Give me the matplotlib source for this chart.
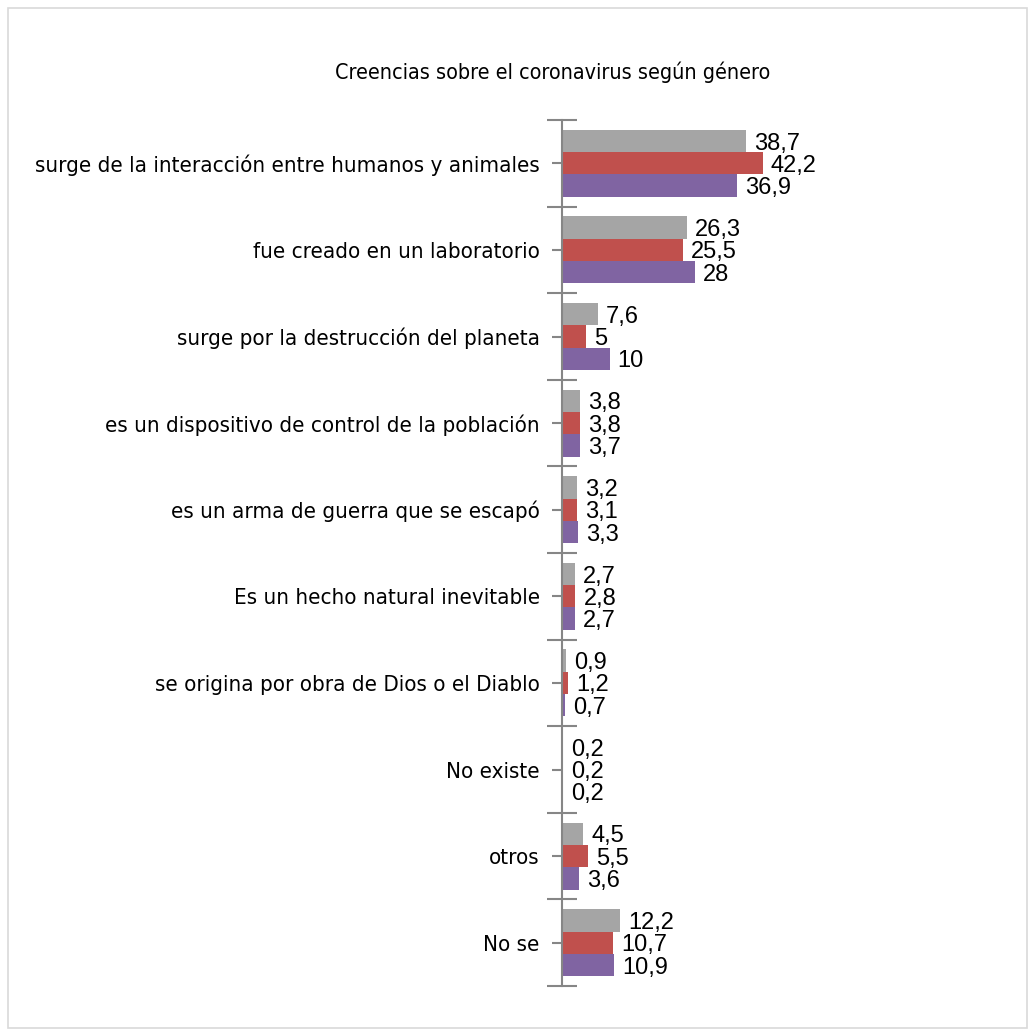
import matplotlib
matplotlib.use("Agg")
from matplotlib import pyplot as plt
from matplotlib.patches import Rectangle
import numpy as np

# datos
categorias = ["surge de la interacción entre humanos y animales",
              "fue creado en un laboratorio",
              "surge por la destrucción del planeta",
              "es un dispositivo de control de la población",
              "es un arma de guerra que se escapó",
              "Es un hecho natural inevitable",
              "se origina por obra de Dios o el Diablo",
              "No existe",
              "otros",
              "No se"]
serie_gris = [38.7, 26.3, 7.6, 3.8, 3.2, 2.7, 0.9, 0.2, 4.5, 12.2]
serie_roja = [42.2, 25.5, 5, 3.8, 3.1, 2.8, 1.2, 0.2, 5.5, 10.7]
serie_violeta = [36.9, 28, 10, 3.7, 3.3, 2.7, 0.7, 0.2, 3.6, 10.9]

colores = ["#A5A5A5", "#C0504D", "#8064A2"]

fig = plt.figure(figsize=(10.35, 10.36), dpi=100)
# recuadro exterior
fig.patches.append(Rectangle((8 / 1035, 8 / 1036), 1019 / 1035, 1020 / 1036,
                             transform=fig.transFigure, fill=False,
                             edgecolor="#D9D9D9", linewidth=1.2))

ax = fig.add_axes([562 / 1035, 50 / 1036, 214 / 1035, 866 / 1036])

y = np.arange(len(categorias))
alto = 0.258
for k, (serie, color) in enumerate(zip([serie_gris, serie_roja, serie_violeta], colores)):
    pos = y + (k - 1) * alto
    ax.barh(pos, serie, height=alto, color=color)
    for p, v in zip(pos, serie):
        txt = f"{v:g}".replace(".", ",")
        ax.text(v + 1.7, p + 0.03, txt, va="center", ha="left",
                fontsize=17, family="Liberation Sans")

ax.set_xlim(0, 45)
ax.set_ylim(len(categorias) - 0.5, -0.5)

# ejes
for lado in ["top", "right", "bottom"]:
    ax.spines[lado].set_visible(False)
ax.spines["left"].set_color("#868686")
ax.spines["left"].set_linewidth(1.5)
ax.set_xticks([])

ax.set_yticks(y)
ax.set_yticklabels(categorias, family="DejaVu Sans", stretch="condensed", fontsize=16)
ax.set_yticks(np.arange(len(categorias) + 1) - 0.5, minor=True)
ax.tick_params(axis="y", which="major", direction="out", length=7,
               width=1.5, color="#868686", pad=9)
ax.tick_params(axis="y", which="minor", direction="inout", length=22,
               width=1.5, color="#868686")

fig.text(553 / 1035, 1 - 72 / 1036, "Creencias sobre el coronavirus según género",
         ha="center", va="center", fontsize=15.4, family="DejaVu Sans", stretch="condensed")

fig.savefig("out.png", dpi=100)
